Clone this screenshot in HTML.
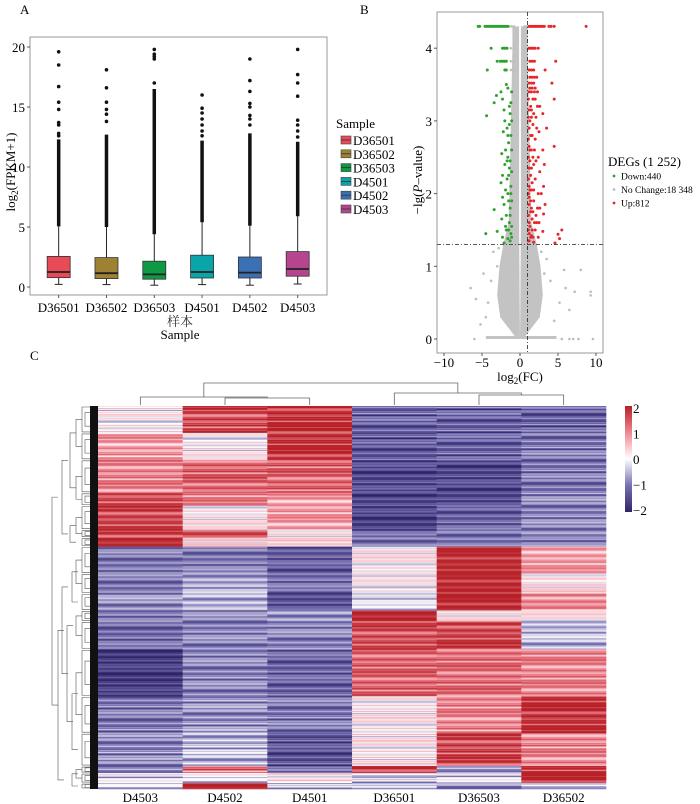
<!DOCTYPE html>
<html><head><meta charset="utf-8">
<style>
html,body{margin:0;padding:0;background:#fff;}
svg{display:block;font-family:"Liberation Serif","Noto Serif CJK SC",serif;}
</style></head>
<body>
<svg id="fig" width="700" height="804" viewBox="0 0 700 804">
  <text x="20" y="14" font-size="13">A</text>
  <text x="360" y="14" font-size="13">B</text>
  <text x="30" y="360" font-size="13">C</text>
  <g id="pa"></g>
  <g id="pb"></g>
  <g id="pc"></g>
</svg>
<script>
// ---------- Panel A data ----------
const samples = ["D36501","D36502","D36503","D4501","D4502","D4503"];
const boxColors = ["#e84a57","#9c8232","#0e9a45","#0aa5a8","#3b70b4","#b5458f"];
const q1 = [0.78,0.70,0.65,0.75,0.75,0.90];
const med = [1.25,1.15,1.05,1.25,1.20,1.50];
const q3 = [2.55,2.45,2.15,2.65,2.50,2.95];
const wLo = [0.22,0.20,0.15,0.20,0.15,0.25];
const wHi = [5.05,5.00,4.40,5.40,5.10,5.90];
const denseTop = [12.3,12.7,16.5,12.2,12.8,12.1];
const outliers = [
  [12.6,12.8,13.5,13.7,14.8,15.4,16.7,18.5,19.6],
  [13.8,14.4,14.8,15.4,16.6,18.1],
  [17.0,19.0,19.2,19.4,19.8],
  [12.6,13.0,13.5,14.0,14.5,14.9,16.0],
  [13.5,14.0,14.3,15.0,15.3,16.3,17.2,19.0],
  [12.5,13.0,13.5,13.9,15.9,17.0,17.7,19.8]
];
const yTicksA = [0,5,10,15,20];

// ---------- Panel B data ----------
const xTicksB = [-10,-5,0,5,10];
const yTicksB = [0,1,2,3,4];
const pGrid  = [0,0.3,0.6,1,1.3,1.6,2,2.5,3,3.5,4,4.3];
const outerW = [0.4,2.6,3.0,2.7,2.2,1.5,1.4,1.3,1.2,1.1,1.0,1.0];
const innerW = [0,0.03,0.05,0.08,0.1,0.12,0.12,0.12,0.12,0.12,0.12,0.12];
const downPts = [[-5.5,4.3],[-5.3,4.3],[-4.6,4.3],[-4.4,4.3],[-4.2,4.3],[-4,4.3],[-3.8,4.3],[-3.6,4.3],[-3.4,4.3],[-3.2,4.3],[-3,4.3],[-2.8,4.3],[-2.6,4.3],[-2.4,4.3],[-2.2,4.3],[-2,4.3],[-1.8,4.3],[-1.6,4.3],
 [-3.8,4],[-2.3,4],[-2.1,4],[-1.9,4],[-1.7,4],[-3,3.82],[-2.6,3.82],[-2.4,3.82],[-2.2,3.82],[-2,3.82],[-1.8,3.82],[-4.3,3.7],[-2,3.7],[-1.8,3.7],
 [-3.1,3.35],[-3.4,3.25],[-2.5,3.4],[-2.3,3.3],[-1.8,3.5],[-1.6,3.45],[-2.1,3.15],[-4.4,3.07],[-2.0,3.0],[-1.7,2.9],[-2.2,2.85],[-1.5,2.7],[-1.9,2.6],[-2.4,2.55],[-1.6,2.5],[-2.0,2.4],[-1.4,2.35],[-2.3,2.25],[-1.7,2.2],[-2.5,2.15],[-1.9,2.05],[-2.3,1.95],[-1.5,1.9],[-2.1,1.85],[-3.4,1.78],[-1.8,1.7],[-2.4,1.65],[-1.4,1.6],[-1.9,1.55],[-4.5,1.45],[-3.0,1.48],[-2.3,1.4],[-1.6,1.38],[-1.3,1.35],[-2.1,1.32],[-1.2,2.1],[-1.3,1.8],[-1.2,2.8],[-1.3,3.1],
 [-1.1,3.4],[-1.2,3.25],[-1.1,3.0],[-1.4,2.95],[-1.1,2.6],[-1.3,2.45],[-1.1,2.3],[-1.2,2.0],[-1.1,1.9],[-1.3,1.7],[-1.1,1.55],[-1.2,1.45],[-1.5,1.5],[-1.1,1.4],[-1.6,2.0],[-1.5,2.25],[-1.6,2.8],[-1.4,3.2],[-1.7,2.45],[-1.8,1.5]];
const upPts = [[1.2,4.3],[1.4,4.3],[1.6,4.3],[1.8,4.3],[2,4.3],[2.2,4.3],[2.4,4.3],[2.6,4.3],[2.8,4.3],[3,4.3],[3.2,4.3],[3.8,4.3],[4.1,4.3],[4.5,4.3],[8.7,4.3],
 [1.2,4],[1.4,4],[1.6,4],[1.8,4],[2.0,4],[2.4,4],[1.3,3.82],[1.6,3.82],[1.9,3.82],[4.7,3.82],[1.2,3.7],[1.5,3.7],[1.8,3.7],[3.3,3.7],[1.3,3.6],[1.6,3.6],[1.9,3.6],[2.2,3.6],[1.2,3.52],[1.5,3.52],[1.8,3.52],[4.2,3.52],[1.3,3.45],[1.6,3.45],[2.0,3.45],[1.2,3.4],[1.5,3.4],[1.9,3.4],[2.3,3.4],
 [4.5,3.3],[2.6,3.2],[3.0,3.1],[1.5,3.15],[2.1,3.05],[1.3,3.0],[1.7,2.95],[2.5,2.85],[3.5,2.9],[1.4,2.8],[2.0,2.75],[3.0,2.6],[1.5,2.6],[4.5,2.65],[2.4,2.5],[1.3,2.45],[1.8,2.4],[3.2,2.4],[2.6,2.3],[1.4,2.25],[2.0,2.2],[3.1,2.1],[1.5,2.05],[2.4,2.0],[1.2,1.95],[1.8,1.9],[3.3,1.85],[2.6,1.8],[1.4,1.75],[2.1,1.7],[3.1,1.72],[1.6,1.65],[2.5,1.6],[1.3,1.55],[2.0,1.5],[5.5,1.5],[3.0,1.48],[1.5,1.42],[2.4,1.4],[5.0,1.44],[1.2,1.35],[1.8,1.33],[5.2,1.38],[4.6,1.32],[2.2,1.6],[1.9,2.6],[2.8,2.0],[1.7,3.3],[2.3,3.2],
 [1.1,3.3],[1.2,3.15],[1.1,3.05],[1.2,2.9],[1.1,2.75],[1.2,2.65],[1.1,2.5],[1.2,2.35],[1.1,2.2],[1.2,2.1],[1.1,2.0],[1.2,1.85],[1.1,1.7],[1.2,1.6],[1.1,1.5],[1.2,1.45],[1.1,1.35],[1.4,1.4],[1.6,1.5],[1.5,1.8],[1.6,2.15],[1.7,2.5],[1.6,2.8],[1.5,3.05],[1.8,3.1],[1.7,1.75],[1.8,2.05],[1.5,2.35],[2.2,2.9],[2.1,2.45],[1.9,1.6],[2.3,1.8],[1.7,1.4],[2.0,3.3],[1.4,3.2],[1.3,2.05],[1.3,2.6],[1.4,1.9]];
const grayPts = [[-6.5,0.7],[-5.8,0.55],[-4.8,0.9],[-5.2,0.2],[-4.5,0.3],[-3.5,1.2],[-3.8,0.8],[-3,1.0],[-4.2,0.5],[4,0.8],[5.2,0.5],[6,0.7],[7.2,0.65],[8,0.95],[9.3,0.65],[9.3,0.6],[4.5,0.25],[3.5,1.1],[3.2,0.9],[6.5,0.4],[2.8,1.2],[-2.8,1.25],[5.8,0.95],[-6,0],[5.5,0],[6.5,0],[7,0],[7.7,0],[9.6,0],
 [-1.4,4.3],[-1.1,4.3],[-0.8,4.3],[0.6,4.3],[0.9,4.3],[-1.2,4],[-0.8,4],[0.7,4],[-1.2,3.82],[-0.8,3.82],[0.7,3.82],[-1.2,3.7],[-0.8,3.7],[0.7,3.7]];

// ---------- Panel C data ----------
const hmCols = ["D4503","D4502","D4501","D36501","D36503","D36502"];
const blockRows = [27,27,33,13,24,8,9,27,20,17,11,28,47,37,33,7,10,6];
const blockVals = [
 [0.0,1.5,1.8,-1.2,-1.2,-1.2],[0.8,0.0,1.8,-1.3,-1.2,-1.0],[1.0,1.3,1.3,-1.5,-1.5,-1.0],[1.5,1.0,0.8,-1.5,-1.5,-0.9],
 [1.6,0.1,0.8,-1.6,-1.2,-0.9],[1.6,1.6,0.1,-1.2,-1.0,-0.8],[2.0,0.3,0.2,-1.0,-1.0,-1.0],[-1.0,-1.0,-1.3,0.1,2.0,0.8],
 [-1.0,-0.6,-1.1,0.0,2.0,0.2],[-0.8,-0.5,-1.4,-0.3,2.0,1.0],[-1.0,-0.9,-0.7,2.0,0.1,0.1],[-1.1,-0.9,-0.9,1.5,1.6,-0.5],
 [-1.7,-0.9,-1.2,1.3,1.2,1.0],[-1.0,-0.8,-1.0,0.1,1.0,1.8],[-0.9,-0.5,-1.4,0.1,1.6,1.0],[-0.9,1.2,-1.2,1.8,-0.8,1.8],
 [-0.3,-0.3,0.2,-0.4,-0.3,2.0],[-0.3,2.0,-0.4,-0.6,-0.8,-0.5]];
const jitter = [0.2,-0.3,0.1,0.4,-0.2,0,-0.5,0.3,-0.1,0.2,0.5,-0.4,0.1,-0.2,0.3,-0.1,0,0.4,-0.3,0.2,-0.6,0.1,0.3];
const scaleTicks = [2,1,0,-1,-2];

const NS="http://www.w3.org/2000/svg";
function mk(parent,tag,attrs,text){const e=document.createElementNS(NS,tag);for(const k in attrs)e.setAttribute(k,attrs[k]);if(text!==undefined)e.textContent=text;parent.appendChild(e);return e;}

// ===== Panel A =====
(function(){
 const g=document.getElementById('pa');
 const X0=30,X1=327,Y0=37,Y1=295,step=47.8;
 const xA=i=>X0+0.6*step+i*step;
 const yA=v=>287-v*12;
 const fr=mk(g,'rect',{x:X0,y:Y0,width:X1-X0,height:Y1-Y0,fill:'#fff',stroke:'#999','stroke-width':1});
 
 yTicksA.forEach(t=>{
  const tl=mk(g,'line',{x1:X0-3,x2:X0,y1:yA(t),y2:yA(t),stroke:'#555'});
  
  const tx=mk(g,'text',{x:X0-5,y:yA(t)+5,'font-size':13,'text-anchor':'end'},String(t));
  
 });
 samples.forEach((s,i)=>{
  const cx=xA(i),w=23;
  const bg=mk(g,'g',{});
  
  mk(bg,'line',{x1:cx,x2:cx,y1:yA(wHi[i]),y2:yA(q3[i]),stroke:'#222','stroke-width':1});
  mk(bg,'line',{x1:cx,x2:cx,y1:yA(q1[i]),y2:yA(wLo[i]),stroke:'#222','stroke-width':1});
  mk(bg,'line',{x1:cx-4,x2:cx+4,y1:yA(wLo[i]),y2:yA(wLo[i]),stroke:'#222','stroke-width':1});
  mk(bg,'line',{x1:cx,x2:cx,y1:yA(denseTop[i]),y2:yA(wHi[i]),stroke:'#111','stroke-width':3.5});
  mk(bg,'rect',{x:cx-w/2,y:yA(q3[i]),width:w,height:yA(q1[i])-yA(q3[i]),fill:boxColors[i],stroke:'#333','stroke-width':0.8});
  mk(bg,'line',{x1:cx-w/2,x2:cx+w/2,y1:yA(med[i]),y2:yA(med[i]),stroke:'#222','stroke-width':1.8});
  outliers[i].forEach(v=>{const c=mk(bg,'circle',{cx:cx,cy:yA(v),r:1.8,fill:'#111'});
   });
  const tl=mk(g,'line',{x1:cx,x2:cx,y1:Y1,y2:Y1+3,stroke:'#555'});
  
  const tx=mk(g,'text',{x:cx,y:312,'font-size':13,'text-anchor':'middle'},s);
  
 });
 const xt=mk(g,'text',{x:180,y:326,'font-size':13,'text-anchor':'middle',fill:'#333'},'样本');
 
 const xt2=mk(g,'text',{x:180,y:339,'font-size':13,'text-anchor':'middle'},'Sample');
 
 const yt=mk(g,'text',{x:0,y:0,'font-size':13,'text-anchor':'middle',transform:'translate(15,172) rotate(-90)'});
 
 yt.innerHTML='log<tspan font-size="9" dy="3">2</tspan><tspan dy="-3">(FPKM+1)</tspan>';
 const lt=mk(g,'text',{x:336,y:128,'font-size':13},'Sample');
 
 samples.forEach((s,i)=>{
  const y=140+i*13.8;
  const le=mk(g,'g',{});
  
  mk(le,'rect',{x:341,y:y-4,width:10,height:8,fill:boxColors[i],stroke:'#444','stroke-width':0.6});
  mk(le,'line',{x1:341,x2:351,y1:y,y2:y,stroke:'#333','stroke-width':0.8});
  mk(le,'text',{x:353,y:y+5,'font-size':13},s);
 });
})();

// ===== Panel B =====
(function(){
 const g=document.getElementById('pb');
 const X0=437,X1=603,Y0=12,Y1=353;
 const xB=v=>520+v*7.6;
 const yB=v=>339-v*72.7;
 const fr=mk(g,'rect',{x:X0,y:Y0,width:X1-X0,height:Y1-Y0,fill:'#fff',stroke:'#999'});
 
 let L=[],R=[];
 pGrid.forEach((p,i)=>{L.push([xB(-outerW[i]),yB(p)]);R.push([xB(outerW[i]),yB(p)]);});
 for(let i=pGrid.length-1;i>=0;i--){L.push([xB(-innerW[i]),yB(pGrid[i])]);R.push([xB(innerW[i]),yB(pGrid[i])]);}
 const lp=mk(g,'polygon',{points:L.map(a=>a.join(',')).join(' '),fill:'#c3c3c3'});
 
 const rp=mk(g,'polygon',{points:R.map(a=>a.join(',')).join(' '),fill:'#c3c3c3'});
 
 const zl=mk(g,'line',{x1:xB(-4.5),x2:xB(4.8),y1:yB(0.02),y2:yB(0.02),stroke:'#c3c3c3','stroke-width':3});
 
 grayPts.forEach(p=>{const c=mk(g,'circle',{cx:xB(p[0]),cy:yB(p[1]),r:1.3,fill:'#bdbdbd'});
  });
 downPts.forEach(p=>{const c=mk(g,'circle',{cx:xB(p[0]),cy:yB(p[1]),r:1.5,fill:'#2ea12e'});
  });
 upPts.forEach(p=>{const c=mk(g,'circle',{cx:xB(p[0]),cy:yB(p[1]),r:1.5,fill:'#e8262a'});
  });
 const hl=mk(g,'line',{x1:X0,x2:X1,y1:yB(1.3),y2:yB(1.3),stroke:'#222','stroke-dasharray':'4,2,1,2','stroke-width':0.8});
 
 const vl=mk(g,'line',{x1:xB(1),x2:xB(1),y1:Y0,y2:Y1,stroke:'#222','stroke-dasharray':'4,2,1,2','stroke-width':0.8});
 
 yTicksB.forEach(t=>{
  const tl=mk(g,'line',{x1:X0-3,x2:X0,y1:yB(t),y2:yB(t),stroke:'#555'});
  
  const tx=mk(g,'text',{x:X0-5,y:yB(t)+5,'font-size':13,'text-anchor':'end'},String(t));
  
 });
 xTicksB.forEach(t=>{
  const tl=mk(g,'line',{x1:xB(t),x2:xB(t),y1:Y1,y2:Y1+3,stroke:'#555'});
  
  const tx=mk(g,'text',{x:xB(t),y:Y1+14,'font-size':13,'text-anchor':'middle'},t<0?'\u2212'+(-t):String(t));
  
 });
 const xt=mk(g,'text',{x:520,y:381,'font-size':13,'text-anchor':'middle'});
 
 xt.innerHTML='log<tspan font-size="9" dy="3">2</tspan><tspan dy="-3">(FC)</tspan>';
 const yt=mk(g,'text',{x:0,y:0,'font-size':13,'text-anchor':'middle',transform:'translate(422,180) rotate(-90)'});
 
 yt.innerHTML='\u2212lg(<tspan font-style="italic">P</tspan>\u2013value)';
 const lt=mk(g,'text',{x:608,y:166,'font-size':13},'DEGs (1 252)');
 
 const items=[['#2ea12e','Down:440'],['#bdbdbd','No Change:18 348'],['#e8262a','Up:812']];
 items.forEach((it,i)=>{
  const y=176+i*13.5;
  const le=mk(g,'g',{});
  
  mk(le,'circle',{cx:614,cy:y,r:1.4,fill:it[0]});
  mk(le,'text',{x:621,y:y+3.5,'font-size':9.5},it[1]);
 });
})();

// ===== Panel C =====
(function(){
 const g=document.getElementById('pc');
 const X0=98,X1=606,Y0=406,Y1=789;
 const cw=(X1-X0)/6;
 const totalRows=blockRows.reduce((a,b)=>a+b,0);
 const rh=(Y1-Y0)/totalRows;
 function col(v){
  v=Math.max(-2,Math.min(2,v));
  const neg=[[255,255,255],[118,112,178],[48,36,104]];
  const pos=[[255,255,255],[240,135,148],[182,32,38]];
  const s=v<0?neg:pos;const a=Math.abs(v);
  const i=Math.min(1,Math.floor(a));const f=a-i;
  const c=s[i].map((x,k)=>Math.round(x+(s[i+1][k]-x)*f));
  return 'rgb('+c.join(',')+')';
 }
 let r=0;
 blockRows.forEach((n,b)=>{
  for(let k=0;k<n;k++,r++){
   for(let c=0;c<6;c++){
    const v=blockVals[b][c]+jitter[(r*5+c*7)%jitter.length]*1.2;
    const rc=mk(g,'rect',{x:X0+c*cw,y:Y0+r*rh,width:cw+0.3,height:rh+0.3,fill:col(v)});
    
   }
  }
 });
 hmCols.forEach((s,i)=>{
  const tx=mk(g,'text',{x:X0+cw*(i+0.5),y:802,'font-size':13,'text-anchor':'middle'},s);
  
 });
 const cx=i=>X0+cw*(i+0.5);
 const td=mk(g,'g',{stroke:'#666','stroke-width':0.8,fill:'none'});
 
 const link=(xa,ya,xb,yb,yt)=>mk(td,'path',{d:`M${xa},${ya}V${yt}H${xb}V${yb}`});
 link(cx(1),405,cx(2),405,398);
 const nA=(cx(1)+cx(2))/2;
 link(cx(0),405,nA,398,397);
 const nB=(cx(0)+nA)/2;
 link(cx(4),405,cx(5),405,395);
 const nC=(cx(4)+cx(5))/2;
 link(cx(3),405,nC,395,393);
 const nD=(cx(3)+nC)/2;
 link(nB,397,nD,393,383);
 const ld=mk(g,'g',{stroke:'#555','stroke-width':0.6,fill:'none'});
 
 mk(ld,'rect',{x:90,y:Y0,width:8,height:Y1-Y0,fill:'#111',stroke:'none'});
 let acc=0;const mids=[];
 blockRows.forEach((n,b)=>{
  const ya=Y0+acc*rh,yb=Y0+(acc+n)*rh;acc+=n;
  mk(ld,'path',{d:`M90,${ya+1}H82V${yb-1}H90`});
  mk(ld,'path',{d:`M90,${(ya+yb)/2-n*rh/4}H85V${(ya+yb)/2+n*rh/4}H90`});
  mids.push((ya+yb)/2);
 });
 function join(a,b,x){mk(ld,'path',{d:`M${x+6},${a}H${x}V${b}H${x+6}`});return (a+b)/2;}
 const m1=join(mids[0],mids[1],76),m2=join(mids[2],mids[3],76),m3=join(mids[4],mids[5],76);
 const m4=join(m1,m2,70),m5=join(m3,mids[6],70),mTop=join(m4,m5,62);
 const n1=join(mids[7],mids[8],76),n2=join(n1,mids[9],72),n3=join(mids[10],mids[11],76);
 const n4=join(mids[12],mids[13],76),n5=join(n4,mids[14],72),n6=join(n3,n5,67);
 const n7=join(mids[15],mids[16],76),n8=join(n7,mids[17],72);
 const n9=join(n2,n6,62),nBot=join(n9,n8,58);
 join(mTop,nBot,52);
 const defs=mk(g,'defs',{});
 const lg=mk(defs,'linearGradient',{id:'cs',x1:0,y1:0,x2:0,y2:1});
 [[0,col(2)],[0.25,col(1)],[0.5,col(0)],[0.75,col(-1)],[1,col(-2)]].forEach(s=>mk(lg,'stop',{offset:s[0],'stop-color':s[1]}));
 const cb=mk(g,'rect',{x:625,y:406,width:7,height:106,fill:'url(#cs)'});
 
 scaleTicks.forEach((t,i)=>{
  const y=408+i*25.5;
  const tx=mk(g,'text',{x:633,y:y+5,'font-size':13},t<0?'\u2212'+(-t):String(t));
  
 });
})();
</script>
</body></html>
